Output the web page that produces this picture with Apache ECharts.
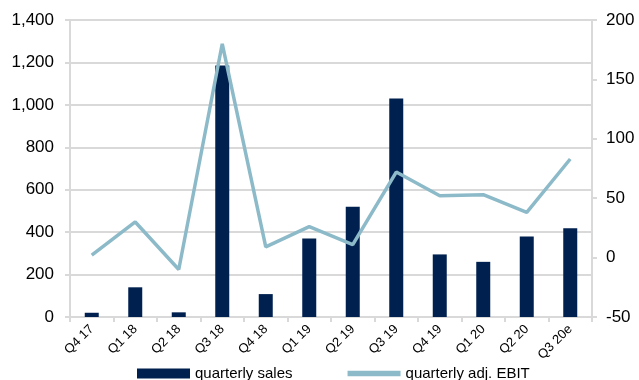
<!DOCTYPE html>
<html>
<head>
<meta charset="utf-8">
<script src="https://cdn.jsdelivr.net/npm/echarts@6/dist/echarts.min.js"></script>
<style>
  html, body { margin: 0; padding: 0; background: #fff; }
  #chart { width: 639px; height: 380px; }
</style>
</head>
<body>
<div id="chart"></div>
<script>
// Quarterly sales (left axis) and adjusted EBIT (right axis)
const quarters = ['Q4 17', 'Q1 18', 'Q2 18', 'Q3 18', 'Q4 18', 'Q1 19', 'Q2 19', 'Q3 19', 'Q4 19', 'Q1 20', 'Q2 20', 'Q3 20e'];
const quarterlySales = [20, 140, 22, 1185, 108, 370, 520, 1030, 295, 260, 380, 418];
const quarterlyEbit = [2, 30, -10, 180, 9, 26, 11, 72, 52, 53, 38, 83];

const gridColor = '#d9d9d9';
const font = '"Liberation Sans", Arial, sans-serif';

const chart = echarts.init(document.getElementById('chart'), null, { renderer: 'canvas' });
chart.setOption({
  animation: false,
  grid: { left: 70, right: 47, top: 20, bottom: 63 },
  legend: {
    bottom: -6,
    left: 132,
    itemGap: 55,
    itemWidth: 53,
    itemHeight: 10,
    textStyle: { fontFamily: font, fontSize: 15, color: '#000' },
    data: [
      { name: 'quarterly sales', icon: 'rect' },
      { name: 'quarterly adj. EBIT', icon: 'path://M0,0 L10,0 L10,1 L0,1 Z' }
    ]
  },
  xAxis: {
    type: 'category',
    data: quarters,
    axisLine: { lineStyle: { color: gridColor, width: 2 } },
    axisTick: { show: true, length: 5, lineStyle: { color: gridColor, width: 2 } },
    axisLabel: { rotate: 45, fontFamily: font, fontSize: 13, color: '#000', margin: 10, interval: 0 }
  },
  yAxis: [
    {
      type: 'value', min: 0, max: 1400, interval: 200,
      axisLine: { show: true, lineStyle: { color: gridColor, width: 2 } },
      axisTick: { show: true, length: 5, lineStyle: { color: gridColor, width: 2 } },
      splitLine: { lineStyle: { color: gridColor, width: 2 } },
      axisLabel: {
        fontFamily: font, fontSize: 17, color: '#000', margin: 16,
        formatter: v => v.toLocaleString('en-US')
      }
    },
    {
      type: 'value', min: -50, max: 200, interval: 50,
      axisLine: { show: true, lineStyle: { color: gridColor, width: 2 } },
      axisTick: { show: true, length: 5, lineStyle: { color: gridColor, width: 2 } },
      splitLine: { show: false },
      axisLabel: { fontFamily: font, fontSize: 17, color: '#000', margin: 14 }
    }
  ],
  series: [
    {
      name: 'quarterly sales', type: 'bar', yAxisIndex: 0,
      data: quarterlySales, barWidth: 14,
      itemStyle: { color: '#00214f' }
    },
    {
      name: 'quarterly adj. EBIT', type: 'line', yAxisIndex: 1,
      data: quarterlyEbit, symbol: 'none',
      lineStyle: { color: '#8dbac9', width: 3.5 },
      itemStyle: { color: '#8dbac9' }
    }
  ]
});
</script>
</body>
</html>
